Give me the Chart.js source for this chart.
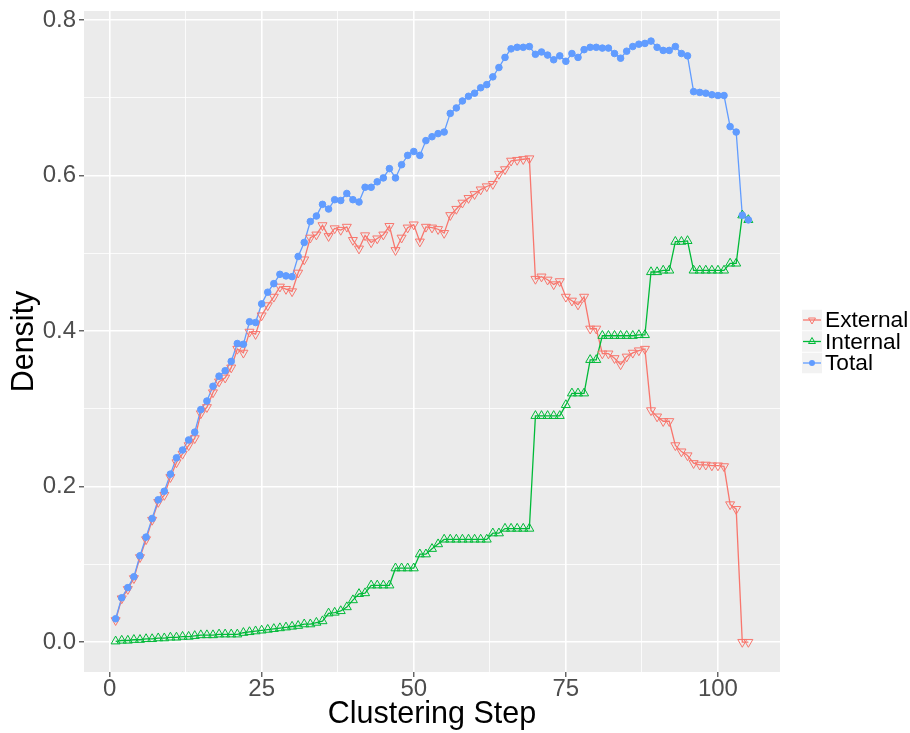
<!doctype html>
<html>
<head>
<meta charset="utf-8">
<title>Density per clustering step</title>
<style>
  html, body { margin: 0; padding: 0; background: #ffffff; }
  #wrap { width: 910px; height: 733px; }
</style>
</head>
<body>
<div id="wrap"><canvas id="chart" width="910" height="733"></canvas></div>

<script src="https://cdn.jsdelivr.net/npm/chart.js@4"></script>
<script>
// ---- data ----
const steps = [
  1, 2, 3, 4, 5, 6, 7, 8, 9, 10, 11, 12, 13, 14, 15, 16, 17, 18, 19, 20,
  21, 22, 23, 24, 25, 26, 27, 28, 29, 30, 31, 32, 33, 34, 35, 36, 37, 38, 39, 40,
  41, 42, 43, 44, 45, 46, 47, 48, 49, 50, 51, 52, 53, 54, 55, 56, 57, 58, 59, 60,
  61, 62, 63, 64, 65, 66, 67, 68, 69, 70, 71, 72, 73, 74, 75, 76, 77, 78, 79, 80,
  81, 82, 83, 84, 85, 86, 87, 88, 89, 90, 91, 92, 93, 94, 95, 96, 97, 98, 99, 100,
  101, 102, 103, 104, 105
];

const external = [
  0.028, 0.056, 0.068, 0.082, 0.109, 0.132, 0.157, 0.180, 0.189, 0.212,
  0.231, 0.242, 0.253, 0.262, 0.294, 0.302, 0.321, 0.335, 0.340, 0.353,
  0.377, 0.372, 0.399, 0.396, 0.420, 0.433, 0.444, 0.457, 0.454, 0.451,
  0.475, 0.492, 0.520, 0.524, 0.536, 0.522, 0.532, 0.530, 0.534, 0.517,
  0.506, 0.523, 0.514, 0.519, 0.524, 0.535, 0.504, 0.520, 0.533, 0.537,
  0.515, 0.534, 0.533, 0.531, 0.526, 0.549, 0.557, 0.565, 0.571, 0.576,
  0.582, 0.586, 0.589, 0.602, 0.608, 0.619, 0.620, 0.621, 0.622, 0.467,
  0.470, 0.466, 0.460, 0.464, 0.444, 0.439, 0.434, 0.444, 0.403, 0.403,
  0.371, 0.371, 0.365, 0.357, 0.367, 0.372, 0.375, 0.377, 0.298, 0.290,
  0.284, 0.284, 0.253, 0.245, 0.240, 0.230, 0.228, 0.228, 0.227, 0.227,
  0.226, 0.177, 0.171, 0.000, 0.000
];

const internal = [
  0.001, 0.002, 0.002, 0.003, 0.003, 0.004, 0.004, 0.005, 0.005, 0.006,
  0.006, 0.007, 0.007, 0.008, 0.009, 0.009, 0.009, 0.010, 0.010, 0.010,
  0.010, 0.012, 0.013, 0.014, 0.015, 0.016, 0.017, 0.018, 0.019, 0.020,
  0.021, 0.023, 0.023, 0.025, 0.027, 0.037, 0.038, 0.040, 0.045, 0.054,
  0.062, 0.063, 0.073, 0.073, 0.073, 0.073, 0.095, 0.095, 0.095, 0.095,
  0.113, 0.113, 0.120, 0.126, 0.132, 0.132, 0.132, 0.132, 0.132, 0.132,
  0.132, 0.132, 0.140, 0.140, 0.146, 0.146, 0.146, 0.146, 0.146, 0.291,
  0.291, 0.291, 0.291, 0.291, 0.305, 0.320, 0.320, 0.320, 0.363, 0.363,
  0.394, 0.394, 0.394, 0.394, 0.394, 0.394, 0.395, 0.395, 0.476, 0.476,
  0.478, 0.478, 0.515, 0.515, 0.516, 0.478, 0.478, 0.478, 0.478, 0.478,
  0.478, 0.487, 0.487, 0.549, 0.543
];

const total = [
  0.030, 0.057, 0.070, 0.084, 0.111, 0.135, 0.159, 0.183, 0.194, 0.216,
  0.237, 0.247, 0.260, 0.270, 0.299, 0.310, 0.329, 0.342, 0.349, 0.361,
  0.384, 0.383, 0.412, 0.411, 0.435, 0.450, 0.461, 0.473, 0.471, 0.470,
  0.496, 0.514, 0.541, 0.548, 0.563, 0.557, 0.569, 0.568, 0.577, 0.569,
  0.566, 0.585, 0.585, 0.592, 0.597, 0.609, 0.597, 0.614, 0.626, 0.631,
  0.626, 0.645, 0.650, 0.654, 0.656, 0.680, 0.687, 0.696, 0.702, 0.706,
  0.713, 0.717, 0.727, 0.739, 0.752, 0.763, 0.765, 0.765, 0.766, 0.756,
  0.759, 0.755, 0.749, 0.754, 0.747, 0.757, 0.752, 0.762, 0.765, 0.765,
  0.764, 0.764, 0.757, 0.751, 0.760, 0.766, 0.769, 0.770, 0.773, 0.765,
  0.761, 0.761, 0.766, 0.757, 0.754, 0.708, 0.707, 0.706, 0.704, 0.703,
  0.703, 0.663, 0.656, 0.549, 0.543
];

const seriesNames = ['External', 'Internal', 'Total'];

const xMajor = [0, 25, 50, 75, 100];
const xMinor = [12.5, 37.5, 62.5, 87.5];
const xLabels = ['0', '25', '50', '75', '100'];
const yMajor = [0, 0.2, 0.4, 0.6, 0.8];
const yMinor = [0.1, 0.3, 0.5, 0.7];
const yLabels = ['0.0', '0.2', '0.4', '0.6', '0.8'];

// ---- styles ----
const FONT = '"Liberation Sans", Arial, Helvetica, sans-serif';
const colors = ['#F8766D', '#00BA38', '#619CFF'];
const shapes = ['triangle', 'triangle', 'circle'];
const rotations = [180, 0, 0];
const hollow = [true, true, false];
const values = [external, internal, total];

Chart.defaults.font.family = FONT;

function xy(vals) {
  return steps.map((s, i) => ({ x: s, y: vals[i] }));
}

// lines first (underneath), points on top, like the ggplot layers
const datasets = [];
values.forEach((vals, i) => {
  datasets.push({
    label: seriesNames[i] + ' line',
    data: xy(vals),
    borderColor: colors[i],
    borderWidth: 1.3,
    pointRadius: 0,
    fill: false,
    tension: 0,
    order: 6 - i
  });
});
values.forEach((vals, i) => {
  datasets.push({
    label: seriesNames[i],
    data: xy(vals),
    showLine: false,
    pointStyle: shapes[i],
    pointRotation: rotations[i],
    pointRadius: shapes[i] === 'circle' ? 3.3 : 5.2,
    pointBorderWidth: 1,
    pointBorderColor: colors[i],
    pointBackgroundColor: hollow[i] ? 'rgba(0,0,0,0)' : colors[i],
    order: 3 - i
  });
});

const panelBg = {
  id: 'panelBg',
  beforeDraw(chart) {
    const { ctx, chartArea: a } = chart;
    ctx.save();
    ctx.fillStyle = '#EBEBEB';
    ctx.fillRect(a.left, a.top, a.right - a.left, a.bottom - a.top);
    ctx.restore();
  }
};

function drawMarker(ctx, shape, rot, r, x, y) {
  ctx.beginPath();
  if (shape === 'circle') {
    ctx.arc(x, y, r, 0, Math.PI * 2);
  } else {
    let rad = rot * Math.PI / 180;
    for (let k = 0; k < 3; k++) {
      const px = x + Math.sin(rad) * r, py = y - Math.cos(rad) * r;
      if (k === 0) ctx.moveTo(px, py); else ctx.lineTo(px, py);
      rad += 2 * Math.PI / 3;
    }
    ctx.closePath();
  }
}

const keyLegend = {
  id: 'keyLegend',
  afterDraw(chart) {
    const { ctx, chartArea: a } = chart;
    const key = 20, rowH = 21.5;
    const x0 = a.right + 22;
    const midY = (a.top + a.bottom) / 2;
    const top = midY - rowH * seriesNames.length / 2;
    ctx.save();
    seriesNames.forEach((name, i) => {
      const y = top + i * rowH;
      const cy = y + rowH / 2;
      ctx.fillStyle = '#F2F2F2';
      ctx.fillRect(x0, y + 0.5, key, rowH - 1);
      ctx.strokeStyle = colors[i];
      ctx.lineWidth = 1.3;
      ctx.beginPath();
      ctx.moveTo(x0 + 1, cy);
      ctx.lineTo(x0 + key - 1, cy);
      ctx.stroke();
      drawMarker(ctx, shapes[i], rotations[i], shapes[i] === 'circle' ? 3 : 4, x0 + key / 2, cy);
      if (hollow[i]) {
        ctx.lineWidth = 1;
        ctx.stroke();
      } else {
        ctx.fillStyle = colors[i];
        ctx.fill();
      }
      ctx.fillStyle = '#000000';
      ctx.font = '22.7px ' + FONT;
      ctx.textAlign = 'left';
      ctx.textBaseline = 'middle';
      ctx.fillText(name, x0 + key + 3, cy + 1);
    });
    ctx.restore();
  }
};

const isIn = (list, v) => list.some(m => Math.abs(m - v) < 1e-9);

new Chart(document.getElementById('chart'), {
  type: 'line',
  data: { datasets: datasets },
  plugins: [panelBg, keyLegend],
  options: {
    responsive: false,
    animation: false,
    layout: { padding: { top: 11, right: 130, bottom: 0, left: 0 } },
    plugins: {
      legend: { display: false },
      tooltip: { enabled: false }
    },
    scales: {
      x: {
        type: 'linear',
        min: -4.2,
        max: 110.2,
        afterBuildTicks: s => {
          s.ticks = xMajor.concat(xMinor).sort((p, q) => p - q).map(v => ({ value: v }));
        },
        afterFit: s => {
          s.height = 61;
          s.paddingLeft = 0;
          s.paddingRight = 0;
        },
        border: { display: false },
        grid: {
          color: '#FFFFFF',
          lineWidth: c => (c.tick && isIn(xMajor, c.tick.value)) ? 1.6 : 0.8,
          tickColor: c => (c.tick && isIn(xMajor, c.tick.value)) ? '#333333' : 'rgba(0,0,0,0)',
          tickLength: 5,
          tickWidth: 1.1
        },
        ticks: {
          autoSkip: false,
          maxRotation: 0,
          padding: 0,
          color: '#4D4D4D',
          font: { size: 24, lineHeight: 1 },
          callback: v => {
            const i = xMajor.indexOf(v);
            return i >= 0 ? xLabels[i] : '';
          }
        },
        title: {
          display: true,
          text: 'Clustering Step',
          color: '#000000',
          font: { size: 30.5 },
          padding: { top: 0, bottom: 0 }
        }
      },
      y: {
        type: 'linear',
        min: -0.0385,
        max: 0.8117,
        afterBuildTicks: s => {
          s.ticks = yMajor.concat(yMinor).sort((p, q) => p - q).map(v => ({ value: v }));
        },
        afterFit: s => {
          s.width = 84;
          s.paddingTop = 0;
          s.paddingBottom = 0;
        },
        border: { display: false },
        grid: {
          color: '#FFFFFF',
          lineWidth: c => (c.tick && isIn(yMajor, c.tick.value)) ? 1.6 : 0.8,
          tickColor: c => (c.tick && isIn(yMajor, c.tick.value)) ? '#333333' : 'rgba(0,0,0,0)',
          tickLength: 5,
          tickWidth: 1.1
        },
        ticks: {
          autoSkip: false,
          padding: 3,
          color: '#4D4D4D',
          font: { size: 24 },
          callback: v => {
            const i = yMajor.findIndex(m => Math.abs(m - v) < 1e-9);
            return i >= 0 ? yLabels[i] : '';
          }
        },
        title: {
          display: true,
          text: 'Density',
          color: '#000000',
          font: { size: 30.5 },
          padding: { top: 6, bottom: 0 }
        }
      }
    }
  }
});
</script>
</body>
</html>
